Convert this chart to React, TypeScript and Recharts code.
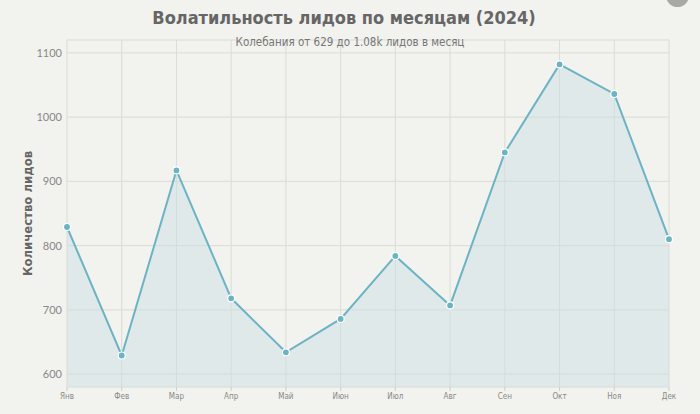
import React from "react";
import {
  AreaChart,
  Area,
  XAxis,
  YAxis,
  CartesianGrid,
  Label,
} from "recharts";

const months = ["Янв", "Фев", "Мар", "Апр", "Май", "Июн", "Июл", "Авг", "Сен", "Окт", "Ноя", "Дек"];
const leads = [829, 629, 917, 718, 634, 686, 784, 707, 945, 1082, 1036, 810];
const yTicks = [600, 700, 800, 900, 1000, 1100];

const title = "Волатильность лидов по месяцам (2024)";
const subtitle = "Колебания от 629 до 1.08k лидов в месяц";
const yLabel = "Количество лидов";

const data = months.map((m, i) => ({ month: m, value: leads[i] }));

const LINE = "#6cb3c4";

export default function App() {
  return (
    <div
      style={{
        position: "absolute",
        left: 0,
        top: 0,
        width: 700,
        height: 414,
        background: "#f2f2ee",
        overflow: "hidden",
      }}
    >
      <div
        style={{
          position: "absolute",
          left: 0,
          top: 7,
          width: 688,
          textAlign: "center",
          fontFamily: "'DejaVu Sans Condensed', 'DejaVu Sans', sans-serif",
          fontWeight: 700,
          fontSize: 18,
          color: "#666666",
        }}
      >
        {title}
      </div>
      <div
        style={{
          position: "absolute",
          left: 0,
          top: 35,
          width: 700,
          textAlign: "center",
          fontFamily: "'DejaVu Sans Condensed', 'DejaVu Sans', sans-serif",
          fontSize: 11.5,
          color: "#777777",
          zIndex: 2,
        }}
      >
        {subtitle}
      </div>
      <div
        style={{
          position: "absolute",
          left: 666,
          top: -16,
          width: 23,
          height: 23,
          borderRadius: "50%",
          background: "#a8a8a5",
        }}
      />
      <AreaChart
        width={700}
        height={414}
        data={data}
        margin={{ top: 40, right: 31, left: 0, bottom: 7 }}
      >
        <CartesianGrid stroke="#dcdcd6" strokeWidth={1} />
        <XAxis
          dataKey="month"
          axisLine={false}
          tickLine={{ stroke: "#cfcfc9" }}
          tickSize={4}
          height={20}
          interval={0}
          tick={{ fontSize: 8, fill: "#888888", fontFamily: "'DejaVu Sans Condensed', 'DejaVu Sans', sans-serif" }}
        />
        <YAxis
          domain={[580, 1120]}
          ticks={yTicks}
          axisLine={false}
          tickLine={false}
          tickSize={0}
          width={67}
          tickMargin={5}
          tick={{ fontSize: 11, fill: "#888888", fontFamily: "'Lato', 'DejaVu Sans', sans-serif" }}
        >
          <Label
            value={yLabel}
            angle={-90}
            position="insideLeft"
            offset={27}
            style={{
              textAnchor: "middle",
              fontSize: 13,
              fontWeight: 700,
              fill: "#666666",
              fontFamily: "'DejaVu Sans Condensed', 'DejaVu Sans', sans-serif",
            }}
          />
        </YAxis>
        <Area
          type="linear"
          dataKey="value"
          stroke={LINE}
          strokeWidth={2}
          fill="#c7dde3"
          fillOpacity={0.45}
          baseValue={580}
          isAnimationActive={false}
          dot={{ r: 3.5, fill: LINE, stroke: "#ffffff", strokeWidth: 1.2, fillOpacity: 1 }}
          activeDot={false}
        />
      </AreaChart>
    </div>
  );
}
